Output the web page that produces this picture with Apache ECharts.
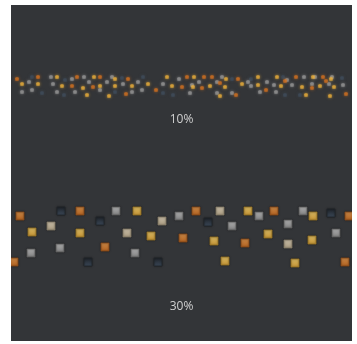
<!DOCTYPE html>
<html>
<head>
<meta charset="utf-8">
<script src="https://cdn.jsdelivr.net/npm/echarts@6/dist/echarts.min.js"></script>
<style>
  html, body { margin: 0; padding: 0; background: #fff; }
  #chart { position: absolute; left: 11px; top: 5px; width: 341px; height: 336px; background: #333538; }
</style>
</head>
<body>
<div id="chart"></div>
<script>
// band labels
var bandLabels = ['10%', '30%']

// upper band (small dots), [x, y]
var topOrange = [[3,21],[13.5,23],[33,23],[44.5,23],[58.5,21],[30.5,14],[41,13],[72.5,10],[57.5,6],[88,23],[96.5,23],[100.5,23],[113.5,21],[142.5,23],[156,23],[85.5,13],[95.5,12],[104.5,17],[137,19],[150.5,12],[157.5,19],[127.5,10],[112.5,5],[167.5,6]]
var topYellow = [[23,23],[41.5,23],[52,21],[78,23],[5.5,16],[13.5,16],[25.5,14],[36,12],[44.5,14],[52,14],[60.5,14],[68.5,16],[80.5,14],[38,5],[49,4],[91.5,23],[107.5,21],[123.5,23],[133,23],[151,23],[160,21],[91,13],[99.5,14],[107,13],[115.5,16],[123.5,15],[135,14],[145.5,13],[154.5,14],[161.5,13],[104.5,4],[147.5,5],[159.5,4]]
var topGrey = [[20,23],[30.5,21],[36.5,23],[50.5,23],[84,21],[9,18],[21,16],[39,18],[48,18],[56,16],[63.5,18],[76,16],[5.5,8],[10.5,10],[23,8],[32,8],[44.5,10],[60.5,8],[65.5,10],[105.5,23],[146.5,23],[152,23],[160.5,23],[90.5,15],[94,18],[103,18],[118.5,18],[120,14],[128,18],[131.5,15],[138,20],[140.5,15],[150.5,16],[159,16],[166,15],[89.5,7],[103,7],[110.5,7],[124.5,8],[132.5,8]]
var topDark = [[10.5,23],[27,20],[55.5,22],[66,23],[15.5,7],[26.5,5],[52,8],[76,7],[81,5],[110.5,21],[120,21],[136,23],[165.5,22],[144.5,5],[137,5]]

// lower band (squares), [x, y]
var lowOrange = [[4.5,49],[34.5,54],[1.5,3],[47,18],[86,27],[92.5,54],[117,22],[131.5,54],[169,49],[167,3]]
var lowYellow = [[10.5,33],[34.5,32],[63,54],[70,29],[118.5,54],[101.5,24],[107,4],[151,49],[128.5,31],[150.5,25],[142,2]]
var lowBeige = [[20,39],[75.5,44],[58,32],[104.5,54],[138.5,21]]
var lowGrey = [[24.5,17],[10,12],[52.5,54],[84,49],[62,12],[124,49],[110.5,39],[146,54],[138.5,41],[162.5,32]]
var lowDark = [[25,54],[38.5,3],[44.5,44],[73.5,3],[98.5,43],[160,52]]

var palette = {
    orange: ['#f0a050', '#d9731f', '#8a4a18'],
    yellow: ['#ffd870', '#f2b43a', '#9a7420'],
    beige: ['#eee0c4', '#cdbb9a', '#857a66'],
    grey: ['#cfcfcf', '#9a9a9a', '#5e5e5e'],
    dark: ['#1c2026', '#45566a', '#20262c'],
}

function grad(c) {
    return new echarts.graphic.LinearGradient(0, 0, 0, 1, [
        { offset: 0, color: c[0] },
        { offset: 1, color: c[1] },
    ])
}

function dots(data, key) {
    return {
        type: 'scatter',
        xAxisIndex: 0,
        yAxisIndex: 0,
        symbol: 'roundRect',
        symbolSize: 3.5,
        silent: true,
        itemStyle: {
            color: palette[key][1],
            opacity: key === 'dark' ? 0.45 : 0.7,
            shadowBlur: 3,
            shadowColor: palette[key][1],
        },
        data: data,
    }
}

function squares(data, key) {
    return {
        type: 'scatter',
        xAxisIndex: 1,
        yAxisIndex: 1,
        symbol: 'rect',
        symbolSize: 8,
        silent: true,
        itemStyle: {
            color: grad(palette[key]),
            borderColor: palette[key][2],
            borderWidth: 1,
            shadowBlur: 2,
            shadowColor: 'rgba(0,0,0,0.5)',
        },
        data: data,
    }
}

var axisX = { type: 'value', min: 0, max: 170, show: false }

var myChart = echarts.init(document.getElementById('chart'))
var option = {
    backgroundColor: '#333538',
    animation: false,
    title: [
        {
            text: bandLabels[0],
            left: 'center',
            top: 104,
            textStyle: { color: '#d0d0d0', fontSize: 12, fontWeight: 'normal', fontFamily: 'Open Sans' },
        },
        {
            text: bandLabels[1],
            left: 'center',
            top: 291,
            textStyle: { color: '#d0d0d0', fontSize: 12, fontWeight: 'normal', fontFamily: 'Open Sans' },
        },
    ],
    grid: [
        { left: 0, right: 1, top: 65, height: 30 },
        { left: 0, right: 1, top: 200, height: 60 },
    ],
    xAxis: [
        Object.assign({ gridIndex: 0 }, axisX),
        Object.assign({ gridIndex: 1 }, axisX),
    ],
    yAxis: [
        { type: 'value', gridIndex: 0, min: 0, max: 30, show: false },
        { type: 'value', gridIndex: 1, min: 0, max: 60, show: false },
    ],
    series: [
        dots(topDark, 'dark'),
        dots(topGrey, 'grey'),
        dots(topOrange, 'orange'),
        dots(topYellow, 'yellow'),
        squares(lowDark, 'dark'),
        squares(lowGrey, 'grey'),
        squares(lowBeige, 'beige'),
        squares(lowOrange, 'orange'),
        squares(lowYellow, 'yellow'),
    ],
}
myChart.setOption(option)
</script>
</body>
</html>
